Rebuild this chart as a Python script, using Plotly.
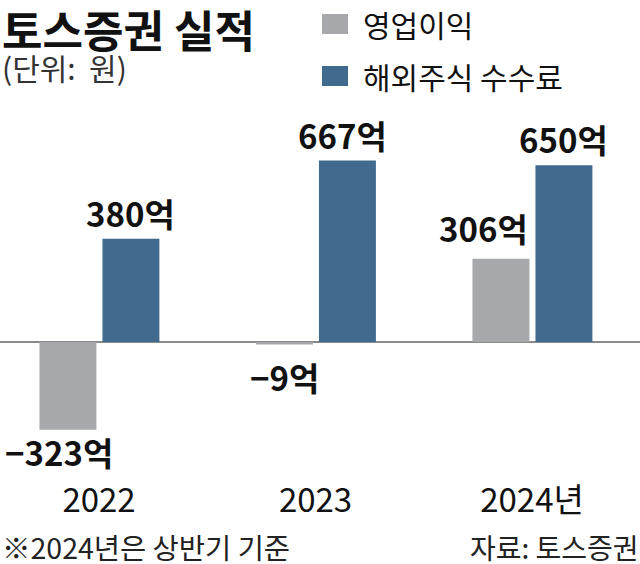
import plotly.graph_objects as go

# ---- data ----
categories = ["2022", "2023", "2024년"]
series_names = ["영업이익", "해외주식 수수료"]
operating_profit = [-323, -9, 306]
overseas_fees = [380, 667, 650]
unit = "억"
title_text = "토스증권 실적"
unit_note = "(단위:  원)"
footnote = "※2024년은 상반기 기준"
source = "자료: 토스증권"

# ---- style ----
W, H = 640, 564
PLOT_TOP, PLOT_BOT = 100, 478
GRAY = "#a7a8ac"
BLUE = "#416a8f"
KR_FONT = "Noto Sans CJK KR, sans-serif"
NUM_FONT = KR_FONT

BAR_W = 0.263
OFFS = [-0.275, 0.016]
colors = [GRAY, BLUE]
series = [operating_profit, overseas_fees]


def px_x(p):
    return p / W


def px_y(p):
    return (PLOT_BOT - p) / (PLOT_BOT - PLOT_TOP)


fig = go.Figure()
for name, vals, col, off in zip(series_names, series, colors, OFFS):
    fig.add_trace(go.Bar(
        x=categories, y=vals, name=name,
        marker=dict(color=col, line=dict(width=0)),
        width=[BAR_W] * len(vals), offset=[off] * len(vals),
        showlegend=False, hoverinfo="skip",
    ))

annotations = []
# value labels (pixel nudges for label placement only)
label_xnudge = {(0, 0): -9, (0, 2): -17, (1, 1): -5}
label_ynudge = {(0, 2): 5}
for s, (vals, off) in enumerate(zip(series, OFFS)):
    for i, v in enumerate(vals):
        txt = f"−{abs(v)}{unit}" if v < 0 else f"{v}{unit}"
        if v < 0:
            yshift = 4 if abs(v) > 50 else -7
        else:
            yshift = 0
        annotations.append(dict(
            x=i + off + BAR_W / 2, y=v, xref="x", yref="y",
            text=f"<b>{txt}</b>", showarrow=False,
            xanchor="center", yanchor="top" if v < 0 else "bottom",
            yshift=yshift + label_ynudge.get((s, i), 0),
            xshift=label_xnudge.get((s, i), 0),
            font=dict(family=NUM_FONT, size=33, color="#111"),
        ))

# title and unit
annotations.append(dict(x=px_x(0), y=px_y(-5), xref="paper", yref="paper",
                        text=f"<b>{title_text}</b>", showarrow=False,
                        xanchor="left", yanchor="top",
                        font=dict(family=KR_FONT, size=44, color="#111")))
annotations.append(dict(x=px_x(0), y=px_y(67), xref="paper", yref="paper",
                        text=unit_note, showarrow=False,
                        xanchor="left", yanchor="middle",
                        font=dict(family=KR_FONT, size=30, color="#333")))

# legend (manual)
shapes = []
leg_y = [24, 76]
for name, col, yc in zip(series_names, colors, leg_y):
    shapes.append(dict(type="rect", xref="paper", yref="paper",
                       x0=px_x(322), x1=px_x(348), y0=px_y(yc - 10), y1=px_y(yc + 10),
                       fillcolor=col, line=dict(width=0)))
    annotations.append(dict(x=px_x(361), y=px_y(yc), xref="paper", yref="paper",
                            text=name, showarrow=False, xanchor="left", yanchor="middle",
                            font=dict(family=KR_FONT, size=30, color="#111")))

# footer
annotations.append(dict(x=px_x(0), y=px_y(546), xref="paper", yref="paper",
                        text=footnote, showarrow=False, xanchor="left", yanchor="middle",
                        font=dict(family=KR_FONT, size=28.5, color="#222")))
annotations.append(dict(x=px_x(641), y=px_y(547), xref="paper", yref="paper",
                        text=source, showarrow=False, xanchor="right", yanchor="middle",
                        font=dict(family=KR_FONT, size=28, color="#222")))

scale = 0.272
y_top = (342 - PLOT_TOP) / scale
y_bot = -(PLOT_BOT - 342) / scale
cx0 = 99 / 216.5

fig.update_layout(
    width=W, height=H,
    margin=dict(l=0, r=0, t=PLOT_TOP, b=H - PLOT_BOT, pad=0),
    paper_bgcolor="white", plot_bgcolor="white",
    barmode="overlay",
    xaxis=dict(type="category", range=[-cx0, (W - 99) / 216.5],
               showgrid=False, showline=False, ticks="", zeroline=False,
               tickfont=dict(family=NUM_FONT, size=33, color="#111")),
    yaxis=dict(range=[y_bot, y_top], showgrid=False, showticklabels=False,
               zeroline=True, zerolinecolor="#8a8a8a", zerolinewidth=2,
               showline=False, ticks=""),
    annotations=annotations, shapes=shapes,
    showlegend=False,
)

fig.write_html("out.html",
               config={"displayModeBar": False},
               post_script="document.body.style.margin='0';document.body.style.overflow='hidden';")
